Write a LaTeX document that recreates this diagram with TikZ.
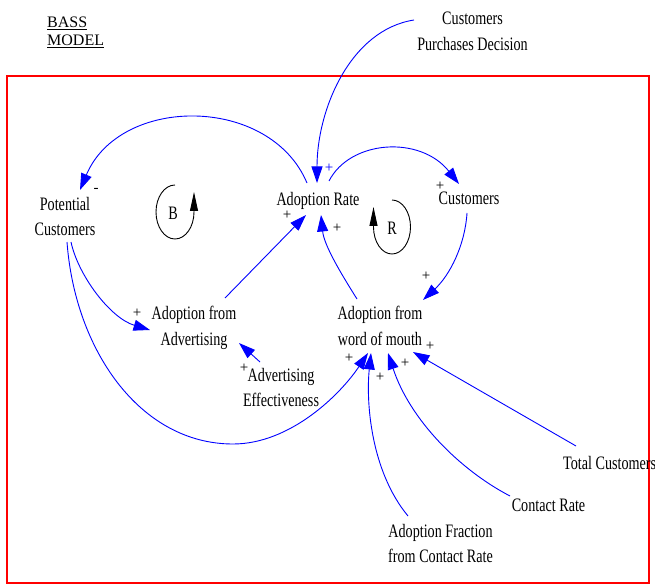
\documentclass[tikz,border=0pt]{standalone}
\usepackage{fontspec}
\setmainfont{Liberation Serif}
\newfontfamily\condfont[FakeStretch=0.745]{Liberation Serif}
\usetikzlibrary{arrows.meta}
\begin{document}
\begin{tikzpicture}[x=1pt,y=-1pt,
  lbl/.style={font=\condfont\fontsize{19}{25.5}\selectfont, inner sep=0pt, align=center, anchor=north},
  pl/.style={font=\fontsize{15}{15}\selectfont, inner sep=0pt},
  arr/.style={blue, line width=0.9pt, -{Triangle[length=16.5pt,width=11pt]}},
  loopline/.style={black, line width=0.9pt, -{Triangle[length=19pt,width=8pt]}}]
\useasboundingbox (0,0) rectangle (655,585);
\draw[red, line width=2pt] (7,76) rectangle (649,583);

\node[anchor=north west, inner sep=0pt, align=left, font=\fontsize{16}{18}\selectfont] (bass) at (47,16.4) {\underline{BASS}\\\underline{MODEL}};

\node[lbl] (cpd) at (472.5,12) {Customers\\Purchases Decision};
\node[lbl] (adr) at (318,192.5) {Adoption Rate};
\node[lbl] (cust) at (469,192) {Customers};
\node[lbl] (pc) at (65,197) {Potential\\Customers};
\node[lbl] (afa) at (194,306) {Adoption from\\Advertising};
\node[lbl] (ae) at (281,368) {Advertising\\Effectiveness};
\node[lbl] (awm) at (380,306) {Adoption from\\word of mouth};
\node[lbl, anchor=north west] (tc) at (563,456) {Total Customers};
\node[lbl] (cr) at (548.5,499) {Contact Rate};
\node[lbl] (afc) at (440.5,524) {Adoption Fraction\\from Contact Rate};

% loops
\node[font=\condfont\fontsize{19}{19}\selectfont, inner sep=0pt] (bl) at (173,213) {B};
\node[font=\condfont\fontsize{19}{19}\selectfont, inner sep=0pt] (rl) at (392,228) {R};
\draw[loopline] (175,185) arc[start angle=-90, end angle=-360, x radius=19, y radius=27] -- ++(0,-20);
\draw[loopline] (392,200) arc[start angle=-90, end angle=180, x radius=18.5, y radius=27] -- ++(0,-20);

% connectors
\draw[arr] ([shift={(-11,-9.5)}]adr.north) .. controls +(-37,-88) and +(40,-95) .. ([shift={(15,-7)}]pc.north);
\draw[arr] ([shift={(-58.5,8)}]cpd.north) .. controls +(-64,10) and +(0,-73) .. ([shift={(-1,-9.5)}]adr.north);
\draw[arr] ([shift={(11,-11.5)}]adr.north) .. controls +(21,-41) and +(-39,-49) .. ([shift={(-10,-8)}]cust.north);
\draw[arr] ([shift={(-2,21)}]cust.north) .. controls +(-2,32) and +(27,-25) .. ([shift={(43,-6)}]awm.north);
\draw[arr] ([shift={(-23,-7)}]awm.north) .. controls +(-17,-27) and +(3,30) .. ([shift={(3,22.5)}]adr.north);
\draw[arr] ([shift={(31,-8)}]afa.north) -- ([shift={(-12,22.5)}]adr.north);
\draw[arr] ([shift={(6,45)}]pc.north) .. controls +(7,33) and +(-40,-12) .. ([shift={(-44,24)}]afa.north);
\draw[arr] ([shift={(2,45)}]pc.north) .. controls +(8,108) and +(-93,0) .. (233,444)
   .. controls +(57,0) and +(-28,42) .. ([shift={(-12,47)}]awm.north);
\draw[arr] ([shift={(-21,-6)}]ae.north) -- ([shift={(45,37)}]afa.north);
\draw[arr] ([shift={(-32.5,-8)}]afc.north) .. controls +(-38,-46) and +(-5,47) .. ([shift={(-9,47)}]awm.north);
\draw[arr] ([shift={(-38.5,-3)}]cr.north) .. controls +(-50,-26) and +(22,67) .. ([shift={(8,47)}]awm.north);
\draw[arr] ([shift={(13,-10)}]tc.north west) -- ([shift={(33,46)}]awm.north);

% polarity signs
\node[pl] (s1) at (96,190) {-};
\node[pl, text=blue] (s2) at (329,168) {+};
\node[pl] (s3) at (440,186) {+};
\node[pl] (s4) at (287,215) {+};
\node[pl] (s5) at (337,228) {+};
\node[pl] (s6) at (426,276) {+};
\node[pl] (s7) at (137,313) {+};
\node[pl] (s8) at (244,368) {+};
\node[pl] (s9) at (349,358) {+};
\node[pl] (s10) at (380,377) {+};
\node[pl] (s11) at (405,363) {+};
\node[pl] (s12) at (430,346) {+};
\end{tikzpicture}
\end{document}
